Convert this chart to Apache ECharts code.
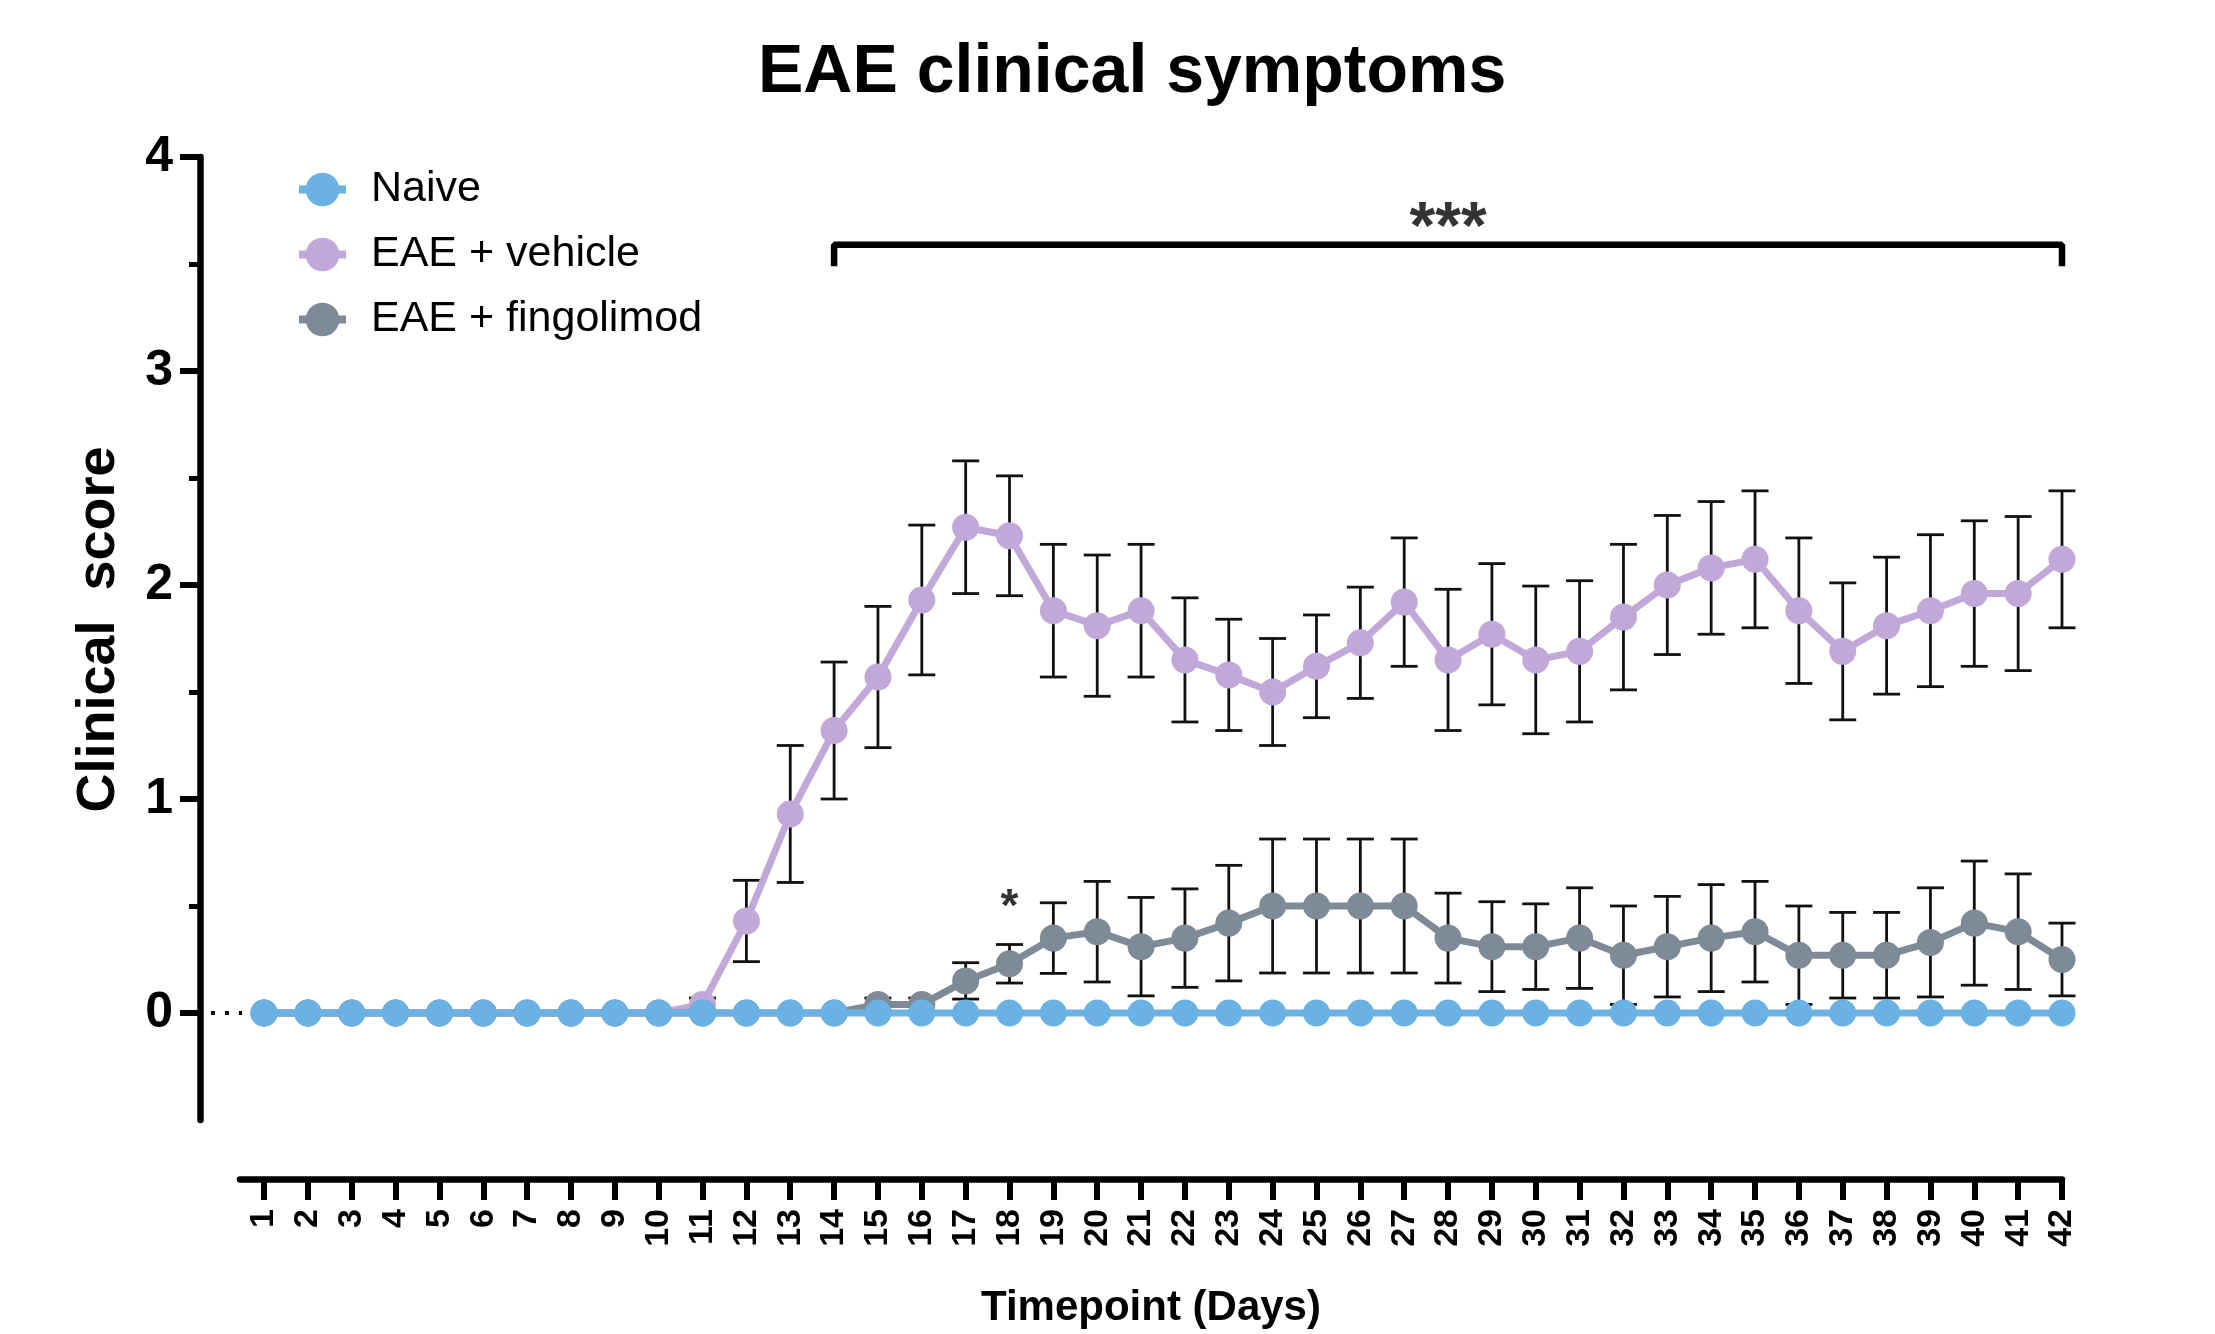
<!DOCTYPE html>
<html>
<head>
<meta charset="utf-8">
<script src="https://cdn.jsdelivr.net/npm/echarts@6/dist/echarts.min.js"></script>
<style>
html,body{margin:0;padding:0;background:#fff;}
#chart{width:2215px;height:1334px;}
</style>
</head>
<body>
<div id="chart"></div>
<script>
// ---- data ----
const days = [1,2,3,4,5,6,7,8,9,10,11,12,13,14,15,16,17,18,19,20,21,22,23,24,25,26,27,28,29,30,31,32,33,34,35,36,37,38,39,40,41,42];
const naiveMean = [0,0,0,0,0,0,0,0,0,0,0,0,0,0,0,0,0,0,0,0,0,0,0,0,0,0,0,0,0,0,0,0,0,0,0,0,0,0,0,0,0,0];
const vehicleMean = [0,0,0,0,0,0,0,0,0,0,0.04,0.43,0.93,1.32,1.57,1.93,2.27,2.23,1.88,1.81,1.88,1.65,1.58,1.50,1.62,1.73,1.92,1.65,1.77,1.65,1.69,1.85,2.00,2.08,2.12,1.88,1.69,1.81,1.88,1.96,1.96,2.12];
const vehicleSem = [0,0,0,0,0,0,0,0,0,0,0.03,0.19,0.32,0.32,0.33,0.35,0.31,0.28,0.31,0.33,0.31,0.29,0.26,0.25,0.24,0.26,0.30,0.33,0.33,0.345,0.33,0.34,0.325,0.31,0.32,0.34,0.32,0.32,0.355,0.34,0.36,0.32];
const fingoMean = [0,0,0,0,0,0,0,0,0,0,0,0,0,0,0.04,0.04,0.15,0.23,0.35,0.38,0.31,0.35,0.42,0.50,0.50,0.50,0.50,0.35,0.31,0.31,0.35,0.27,0.31,0.35,0.38,0.27,0.27,0.27,0.33,0.42,0.38,0.25];
const fingoSem = [0,0,0,0,0,0,0,0,0,0,0,0,0,0,0.03,0.03,0.085,0.09,0.165,0.235,0.23,0.23,0.27,0.313,0.313,0.313,0.313,0.21,0.21,0.2,0.235,0.23,0.235,0.25,0.235,0.23,0.2,0.2,0.255,0.29,0.27,0.17];
const seriesNames = ['Naive','EAE + vehicle','EAE + fingolimod'];
const yMajorTicks = [0,1,2,3,4];
const yMinorTicks = [0.5,1.5,2.5,3.5];
// significance annotations
const bracket = [[14,3.49],[14,3.59],[42,3.59],[42,3.49]];
const bracketLabel = [[28,3.66,'***']];
const dayLabel = [[18,0.49,'*']];
const leadDots = [[-0.21,0],[0.50,0]];

const FONT = '"Liberation Sans", Arial, Helvetica, sans-serif';
const colors = {naive:'#69B2E3', vehicle:'#C0A8D9', fingo:'#7E8A95'};

function pts(vals){ return days.map((d,i)=>[d, vals[i]]); }
function errs(vals, sems){ return days.map((d,i)=>[d, vals[i], sems[i]]).filter(r=>r[2]>0); }

function errRender(params, api){
  const x = api.value(0), m = api.value(1), s = api.value(2);
  const t = api.coord([x, m + s]);
  const b = api.coord([x, m - s]);
  const hw = 13.5;
  const st = {stroke:'#111', lineWidth:2.8};
  return {type:'group', children:[
    {type:'line', shape:{x1:t[0], y1:t[1], x2:b[0], y2:b[1]}, style:st},
    {type:'line', shape:{x1:t[0]-hw, y1:t[1], x2:t[0]+hw, y2:t[1]}, style:st},
    {type:'line', shape:{x1:b[0]-hw, y1:b[1], x2:b[0]+hw, y2:b[1]}, style:st}
  ]};
}

const labelNoBorder = {textBorderWidth:0, textBorderColor:'transparent', textShadowBlur:0};

const chart = echarts.init(document.getElementById('chart'), null, {renderer:'canvas'});
const option = {
  animation:false,
  backgroundColor:'#fff',
  textStyle:{fontFamily:FONT},
  title:{
    text:'EAE clinical symptoms',
    left:753, top:34,
    textStyle:{fontFamily:FONT, fontSize:68, fontWeight:'bold', color:'#000'}
  },
  legend:{
    data:seriesNames,
    orient:'vertical',
    left:290, top:163,
    itemWidth:47, itemHeight:42, itemGap:22,
    lineStyle:{width:8},
    textStyle:{fontFamily:FONT, fontSize:43, color:'#000', padding:[0,0,0,20]}
  },
  grid:[
    {left:200, right:153, top:157, bottom:214, containLabel:false},
    {left:240, right:153, top:157, bottom:214, containLabel:false}
  ],
  xAxis:[
    {
      type:'value', gridIndex:0, min:-0.4595, max:42, show:false,
      splitLine:{show:false}
    },
    {
      type:'value', gridIndex:1, min:0.4528, max:42,
      offset:62,
      name:'Timepoint (Days)', nameLocation:'middle', nameGap:108,
      nameTextStyle:{fontFamily:FONT, fontSize:42, fontWeight:'bold', color:'#000'},
      axisLine:{show:true, onZero:false, lineStyle:{color:'#000', width:6.5}},
      axisTick:{show:true, customValues:days, length:21, lineStyle:{color:'#000', width:6}},
      axisLabel:{show:true, customValues:days, rotate:90, margin:30, fontFamily:FONT, fontSize:34, fontWeight:'bold', color:'#000'},
      splitLine:{show:false}
    }
  ],
  yAxis:[
    {
      type:'value', gridIndex:0, min:-0.5, max:4, position:'left',
      name:'Clinical  score', nameLocation:'middle', nameGap:74, nameRotate:90,
      nameTextStyle:{fontFamily:FONT, fontSize:54, fontWeight:'bold', color:'#000', padding:[0,0,0,18]},
      axisLine:{show:true, onZero:false, lineStyle:{color:'#000', width:6.5}},
      axisTick:{show:true, customValues:yMajorTicks, length:20, lineStyle:{color:'#000', width:6}},
      axisLabel:{show:true, customValues:yMajorTicks, margin:27, fontFamily:FONT, fontSize:50, fontWeight:'bold', color:'#000'},
      splitLine:{show:false}
    },
    {
      type:'value', gridIndex:0, min:-0.5, max:4, position:'left',
      axisLine:{show:false, onZero:false},
      axisTick:{show:true, customValues:yMinorTicks, length:11, lineStyle:{color:'#000', width:5}},
      axisLabel:{show:false},
      splitLine:{show:false}
    },
    {
      type:'value', gridIndex:1, min:-0.5, max:4, show:false,
      splitLine:{show:false}
    }
  ],
  series:[
    {
      type:'custom', name:'vehErr', renderItem:errRender, data:errs(vehicleMean, vehicleSem),
      encode:{x:0, y:1}, z:1, silent:true
    },
    {
      type:'custom', name:'fingoErr', renderItem:errRender, data:errs(fingoMean, fingoSem),
      encode:{x:0, y:1}, z:1, silent:true
    },
    {
      type:'line', name:'EAE + vehicle', data:pts(vehicleMean), z:3,
      symbol:'circle', symbolSize:27, showSymbol:true,
      lineStyle:{color:colors.vehicle, width:7}, itemStyle:{color:colors.vehicle}
    },
    {
      type:'line', name:'EAE + fingolimod', data:pts(fingoMean), z:4,
      symbol:'circle', symbolSize:27, showSymbol:true,
      lineStyle:{color:colors.fingo, width:7}, itemStyle:{color:colors.fingo}
    },
    {
      type:'line', name:'Naive', data:pts(naiveMean), z:5,
      symbol:'circle', symbolSize:27, showSymbol:true,
      lineStyle:{color:colors.naive, width:7}, itemStyle:{color:colors.naive}
    },
    {
      type:'line', name:'leadDots', data:leadDots, z:2,
      symbol:'none', silent:true,
      lineStyle:{color:'#000', width:4, type:[4,10]}
    },
    {
      type:'line', name:'bracket', data:bracket, z:2, symbol:'none', silent:true,
      lineStyle:{color:'#000', width:6.5}
    },
    {
      type:'scatter', name:'sig3', data:bracketLabel, symbolSize:0, silent:true, z:6,
      label:Object.assign({show:true, position:'inside', formatter:p=>p.data[2], fontFamily:FONT, fontSize:66, fontWeight:'bold', color:'#000'}, labelNoBorder)
    },
    {
      type:'scatter', name:'sig1', data:dayLabel, symbolSize:0, silent:true, z:6,
      label:Object.assign({show:true, position:'inside', formatter:p=>p.data[2], fontFamily:FONT, fontSize:46, fontWeight:'bold', color:'#000'}, labelNoBorder)
    }
  ]
};
chart.setOption(option);
</script>
</body>
</html>
